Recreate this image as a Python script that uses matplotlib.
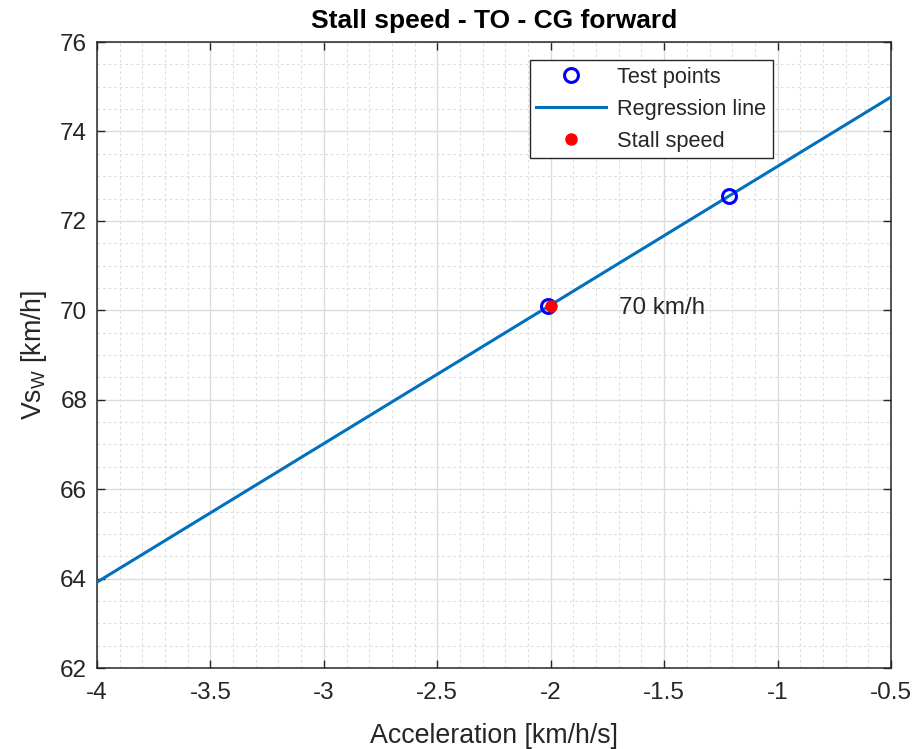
import matplotlib
matplotlib.use("Agg")
import matplotlib.pyplot as plt
import numpy as np
from matplotlib.ticker import MultipleLocator

# test points
accel_pts = [-2.01, -1.215]
vs_pts = [70.1, 72.56]

# regression line end points
line_x = [-4.0, -0.5]
line_y = [63.92, 74.77]

# stall speed point
stall_x = [-2.0]
stall_y = [70.1]
stall_label = "70 km/h"

plt.rcParams["font.family"] = ["Liberation Sans", "DejaVu Sans"]
txt = "#262626"

fig = plt.figure(figsize=(9.2, 7.49), dpi=100)
ax = fig.add_axes([0.1054, 0.1081, 0.8631, 0.8358])

ax.plot(accel_pts, vs_pts, "o", color="blue", mfc="none", mew=2.2, ms=10,
        label="Test points", zorder=4)
ax.plot(line_x, line_y, "-", color="#0072BD", lw=2.2, label="Regression line", zorder=3)
ax.plot(stall_x, stall_y, "o", color="red", ms=8, label="Stall speed", zorder=5)
ax.text(-1.7, 70.05, stall_label, fontsize=17.4, color=txt, va="center", ha="left")

ax.set_xlim(-4, -0.5)
ax.set_ylim(62, 76)
ax.xaxis.set_major_locator(MultipleLocator(0.5))
ax.xaxis.set_minor_locator(MultipleLocator(0.1))
ax.yaxis.set_major_locator(MultipleLocator(2))
ax.yaxis.set_minor_locator(MultipleLocator(0.5))
ax.xaxis.set_major_formatter(plt.FuncFormatter(lambda v, p: f"{v:g}"))
ax.yaxis.set_major_formatter(plt.FuncFormatter(lambda v, p: f"{v:g}"))

ax.grid(which="major", color="#dcdcdc", lw=1.0)
ax.grid(which="minor", color="#dedede", lw=0.8, ls=(0, (2.5, 2.5)))
ax.set_axisbelow(True)

ax.tick_params(which="both", direction="in", top=True, right=True, colors=txt,
               labelsize=17.5)
ax.tick_params(which="major", length=6, width=1.0)
ax.tick_params(axis="x", which="major", pad=10)
ax.tick_params(axis="y", which="major", pad=7)
ax.tick_params(which="minor", length=0)
for s in ax.spines.values():
    s.set_color(txt)
    s.set_linewidth(1.1)

ax.set_xlabel("Acceleration [km/h/s]", fontsize=19.3, color=txt, labelpad=14)
ax.set_ylabel(r"Vs$_\mathregular{W}$ [km/h]", fontsize=19.3, color=txt, labelpad=8)
ax.set_title("Stall speed - TO - CG forward", fontsize=19, fontweight="bold",
             color="black", pad=10)

leg = ax.legend(loc="upper right", bbox_to_anchor=(0.851, 0.971), fontsize=15.7,
                frameon=True, fancybox=False, edgecolor=txt, framealpha=1,
                handlelength=3.2, borderpad=0.3, labelspacing=0.5,
                handletextpad=0.5, borderaxespad=0)
leg.get_frame().set_linewidth(1.0)
for t in leg.get_texts():
    t.set_color(txt)

fig.savefig("out.png", dpi=100)
